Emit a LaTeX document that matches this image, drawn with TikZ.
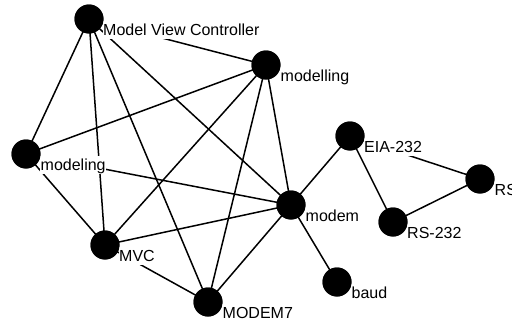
\documentclass[tikz,border=0pt]{standalone}
\usepackage{fontspec}
\setmainfont{Liberation Sans}
\begin{document}
\begin{tikzpicture}[x=1pt,y=-1pt,
  vert/.style={circle,fill=black,inner sep=0pt,minimum size=29pt},
  lbl/.style={anchor=north west,fill=white,inner sep=0.5pt,text height=13.8pt,text depth=3.3pt,font=\fontsize{16pt}{18pt}\selectfont},
  edge/.style={line width=1.5pt,black}]
\useasboundingbox (0,0) rectangle (512,324);
\fill[white] (0,0) rectangle (512,324);
\node[vert] (mvcc) at (89,19) {};
\node[vert] (mlling) at (266,65) {};
\node[vert] (mling) at (26,154) {};
\node[vert] (mvc) at (105,245) {};
\node[vert] (m7) at (208,302) {};
\node[vert] (modem) at (291,205) {};
\node[vert] (eia) at (350,136) {};
\node[vert] (rs232) at (393,222) {};
\node[vert] (rs) at (480,179) {};
\node[vert] (baud) at (337,282) {};
\foreach \a/\b in {mvcc/mlling,mvcc/mling,mvcc/mvc,mvcc/m7,mvcc/modem,
  mlling/mling,mlling/mvc,mlling/m7,mlling/modem,
  mling/mvc,mling/modem,mvc/modem,mvc/m7,m7/modem,
  modem/eia,modem/baud,eia/rs232,eia/rs,rs232/rs}
  \draw[edge] (\a.center) -- (\b.center);
\node[lbl] (tmvcc) at ([xshift=13.5pt,yshift=-2pt]mvcc.center) {Model View Controller};
\node[lbl] (tmlling) at ([xshift=14pt,yshift=-2pt]mlling.center) {modelling};
\node[lbl] (tmling) at ([xshift=14pt,yshift=-2pt]mling.center) {modeling};
\node[lbl] (tmvc) at ([xshift=13.5pt,yshift=-1.5pt]mvc.center) {MVC};
\node[lbl] (tm7) at ([xshift=14pt,yshift=-1.5pt]m7.center) {MODEM7};
\node[lbl] (tmodem) at ([xshift=14pt,yshift=-2pt]modem.center) {modem};
\node[lbl] (teia) at ([xshift=13.5pt,yshift=-1.5pt]eia.center) {EIA-232};
\node[lbl] (trs232) at ([xshift=13.5pt,yshift=-1.5pt]rs232.center) {RS-232};
\node[lbl] (trs) at ([xshift=14pt,yshift=-1.5pt]rs.center) {RS};
\node[lbl] (tbaud) at ([xshift=14pt,yshift=-1.5pt]baud.center) {baud};
\foreach \n in {mvcc,mlling,mling,mvc,m7,modem,eia,rs232,rs,baud}
  \fill (\n.center) circle (14.5pt);
\end{tikzpicture}
\end{document}
